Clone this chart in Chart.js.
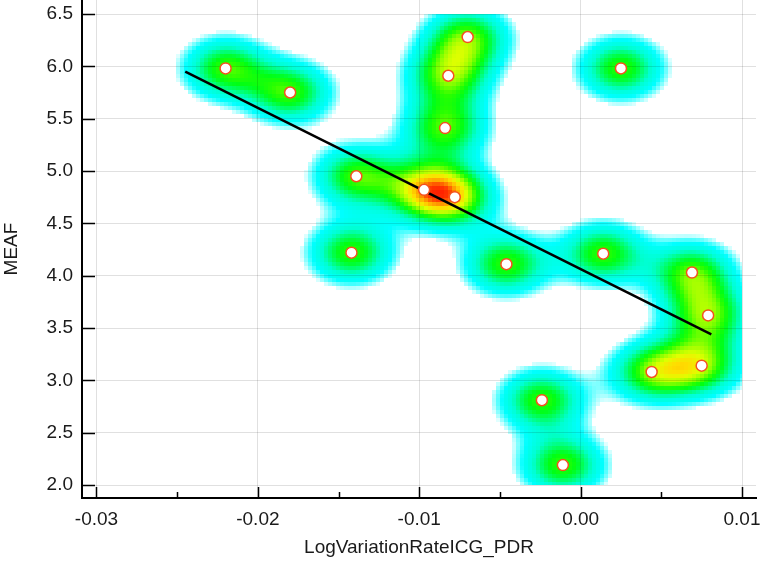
<!DOCTYPE html>
<html>
<head>
<meta charset="utf-8">
<script src="https://cdn.jsdelivr.net/npm/chart.js@4"></script>
<style>
  html, body { margin: 0; padding: 0; background: #fff; }
</style>
</head>
<body>
<canvas id="scatterChart" width="760" height="561"></canvas>
<script>
// Data
const xValues = [-0.0220, -0.0180, -0.0070, -0.0082, -0.0084, 0.0025, -0.0139, -0.0097, -0.0078,
                 -0.0142, -0.0046, 0.0014, 0.0069, 0.0079, 0.0044, 0.0075, -0.0024, -0.0011];
const yValues = [5.98, 5.75, 6.28, 5.91, 5.41, 5.98, 4.95, 4.82, 4.75,
                 4.22, 4.11, 4.21, 4.03, 3.62, 3.08, 3.14, 2.81, 2.19];
const fitX = [-0.0245, 0.0081];
const fitY = [5.95, 3.44];
const xTicks = [-0.03, -0.02, -0.01, 0.00, 0.01];
const xMinorTicks = [-0.025, -0.015, -0.005, 0.005];
const yTicks = [2.0, 2.5, 3.0, 3.5, 4.0, 4.5, 5.0, 5.5, 6.0, 6.5];

// density colours: [level, r, g, b]
const stops = [
    [0.24, 225, 255, 255],
    [0.32, 110, 255, 255],
    [0.42, 0, 255, 255],
    [0.62, 0, 255, 210],
    [0.78, 0, 255, 110],
    [0.92, 0, 255, 20],
    [1.02, 40, 255, 0],
    [1.15, 140, 255, 0],
    [1.30, 225, 255, 0],
    [1.42, 255, 220, 0],
    [1.55, 255, 160, 0],
    [1.68, 255, 60, 0],
    [1.85, 255, 0, 0]
];

function colorAt(d) {
    if (d < stops[0][0]) return null;
    for (let i = 1; i < stops.length; i++) {
        if (d <= stops[i][0]) {
            const a = stops[i - 1], b = stops[i];
            const t = (d - a[0]) / (b[0] - a[0]);
            return 'rgb(' + Math.round(a[1] + t * (b[1] - a[1])) + ',' +
                Math.round(a[2] + t * (b[2] - a[2])) + ',' +
                Math.round(a[3] + t * (b[3] - a[3])) + ')';
        }
    }
    const l = stops[stops.length - 1];
    return 'rgb(' + l[1] + ',' + l[2] + ',' + l[3] + ')';
}

// density map behind everything
const heatmapPlugin = {
    id: 'heatmap',
    beforeDraw(chart) {
        const ctx = chart.ctx;
        const xs = chart.scales.x, ys = chart.scales.y;
        const pts = xValues.map((v, i) => [xs.getPixelForValue(v), ys.getPixelForValue(yValues[i])]);
        const left = Math.round(xs.getPixelForValue(xTicks[0]));
        const right = Math.round(xs.getPixelForValue(xTicks[xTicks.length - 1]));
        const top = Math.round(ys.getPixelForValue(yTicks[yTicks.length - 1]));
        const bottom = Math.round(ys.getPixelForValue(yTicks[0]));
        const sx = 30, sy = 22, cell = 4;
        ctx.save();
        for (let py = top; py < bottom; py += cell) {
            for (let px = left; px < right; px += cell) {
                const cx = px + cell / 2, cy = py + cell / 2;
                let d = 0;
                for (const p of pts) {
                    const dx = (cx - p[0]) / sx, dy = (cy - p[1]) / sy;
                    d += Math.exp(-0.5 * (dx * dx + dy * dy));
                }
                const c = colorAt(d);
                if (!c) continue;
                ctx.fillStyle = c;
                ctx.fillRect(px, py, Math.min(cell, right - px), Math.min(cell, bottom - py));
            }
        }
        ctx.restore();
    }
};

// tick marks pointing into the plot
const innerTicks = {
    id: 'innerTicks',
    afterDraw(chart) {
        const ctx = chart.ctx;
        const xs = chart.scales.x, ys = chart.scales.y;
        const area = chart.chartArea;
        ctx.save();
        ctx.strokeStyle = '#000';
        ctx.lineWidth = 1.5;
        ctx.beginPath();
        xTicks.forEach(v => {
            const px = Math.round(xs.getPixelForValue(v)) + 0.5;
            ctx.moveTo(px, area.bottom);
            ctx.lineTo(px, area.bottom - 11);
        });
        xMinorTicks.forEach(v => {
            const px = Math.round(xs.getPixelForValue(v)) + 0.5;
            ctx.moveTo(px, area.bottom);
            ctx.lineTo(px, area.bottom - 6);
        });
        yTicks.forEach(v => {
            const py = Math.round(ys.getPixelForValue(v)) + 0.5;
            ctx.moveTo(area.left, py);
            ctx.lineTo(area.left + 13, py);
        });
        ctx.stroke();
        ctx.restore();
    }
};

const font = { family: "'Liberation Sans', Arial, sans-serif", size: 19 };

const ctx = document.getElementById('scatterChart').getContext('2d');
const scatterChart = new Chart(ctx, {
    type: 'scatter',
    data: {
        datasets: [{
            label: 'MEAF',
            data: xValues.map((v, i) => ({ x: v, y: yValues[i] })),
            backgroundColor: '#ffffff',
            borderColor: '#f4511e',
            borderWidth: 1.5,
            pointRadius: 5.5,
            clip: false,
            order: 1
        }, {
            type: 'line',
            label: 'Fit',
            data: fitX.map((v, i) => ({ x: v, y: fitY[i] })),
            borderColor: '#000000',
            borderWidth: 2.5,
            pointRadius: 0,
            fill: false,
            order: 2
        }]
    },
    options: {
        responsive: false,
        animation: false,
        layout: { autoPadding: false, padding: { top: 0, right: 4, bottom: 0, left: 0 } },
        plugins: {
            legend: { display: false },
            tooltip: { enabled: false }
        },
        scales: {
            x: {
                type: 'linear',
                min: -0.030898,
                max: 0.010867,
                afterBuildTicks: s => { s.ticks = xTicks.map(v => ({ value: v })); },
                afterFit: s => { s.height = 63; s.paddingLeft = 0; s.paddingRight = 0; },
                grid: { color: 'rgba(0,0,0,0.12)', drawTicks: false },
                border: { color: '#000', width: 2 },
                ticks: {
                    padding: 10,
                    color: '#1a1a1a',
                    font: font,
                    maxRotation: 0,
                    callback: v => v.toFixed(2)
                },
                title: {
                    display: true,
                    text: 'LogVariationRateICG_PDR',
                    color: '#1a1a1a',
                    font: font,
                    padding: { top: 0, bottom: 2 }
                }
            },
            y: {
                type: 'linear',
                min: 1.8758,
                max: 6.6338,
                afterBuildTicks: s => { s.ticks = yTicks.map(v => ({ value: v })); },
                afterFit: s => { s.width = 82; s.paddingTop = 0; s.paddingBottom = 0; },
                grid: { color: 'rgba(0,0,0,0.12)', drawTicks: false },
                border: { color: '#000', width: 2 },
                ticks: {
                    padding: 9,
                    color: '#1a1a1a',
                    font: font,
                    callback: v => v.toFixed(1)
                },
                title: {
                    display: true,
                    text: 'MEAF',
                    color: '#1a1a1a',
                    font: font,
                    padding: { top: 0, bottom: 0 }
                }
            }
        }
    },
    plugins: [heatmapPlugin, innerTicks]
});
</script>
</body>
</html>
